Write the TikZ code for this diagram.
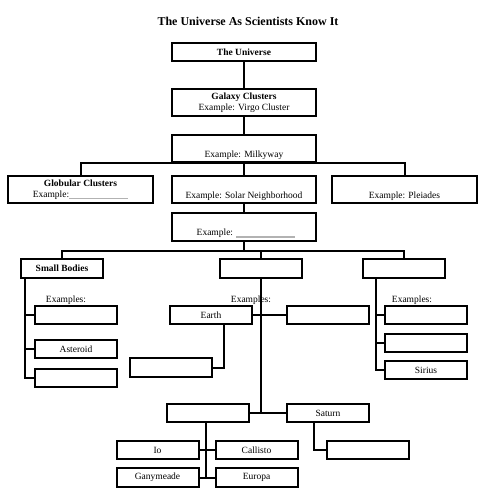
\documentclass[tikz,border=0pt]{standalone}
\usepackage{fontspec}
\setmainfont{Liberation Serif}
\usepackage{xcolor}
\usetikzlibrary{positioning,calc}
\tikzset{>=stealth}
\tikzset{
  box/.style={draw, line width=2pt, inner sep=0pt, align=center,
    minimum width=82pt, minimum height=18pt,
    font=\fontsize{9.5}{11.5}\selectfont},
  bigbox/.style={box, minimum width=144pt, minimum height=27pt},
  link/.style={line width=2pt},
  lbl/.style={inner sep=0pt, font=\fontsize{9.5}{11.5}\selectfont}
}
\newcommand{\blankline}{\textcolor{gray!60}{\rule[-1.8pt]{59pt}{1.2pt}}}

\begin{document}
\begin{tikzpicture}[x=1pt,y=-1pt]
\useasboundingbox (0,0) rectangle (484,499);
\node[inner sep=0pt, font=\fontsize{12}{14}\selectfont\bfseries] (title) at (248,21) {The Universe As Scientists Know It};

\node[bigbox, minimum height=18pt] (univ) at (244,52) {\textbf{The Universe}};
\node[bigbox] (gal) at (244,102.5) {\textbf{Galaxy Clusters}\\Example: Virgo Cluster};
\node[bigbox] (milky) at (244,148.5) {\strut\\Example: Milkyway};
\node[bigbox, minimum width=145pt] (glob) at (80.5,189.5) {\textbf{Globular Clusters}\\Example:\blankline};
\node[bigbox] (solar) at (244,189.5) {\strut\\Example: Solar Neighborhood};
\node[bigbox, minimum width=145pt] (pleia) at (404.5,189.5) {\strut\\Example: Pleiades};
\node[bigbox, minimum height=28pt] (ex) at (244,227) {\strut\\\hspace*{4pt}Example: \blankline};
\coordinate (bar) at (244,251);

% solar system level
\node[box, minimum height=19pt] (small) at (62,268.5) {\textbf{Small Bodies}};
\node[box, minimum height=19pt] (mid) at (261,268.5) {};
\node[box, minimum height=19pt] (right) at (404,268.5) {};

\node[lbl] (exL) at (66,300) {Examples:};
\node[lbl] (exM) at (251,300) {Examples:};
\node[lbl] (exR) at (412,300) {Examples:};

\node[box] (sA) at (76,315) {};
\node[box] (sB) at (76,349) {Asteroid};
\node[box] (sC) at (76,378) {};

\node[box] (earth) at (211,315) {Earth};
\node[box] (mE) at (328,315) {};
\node[box, minimum height=19pt] (earthc) at (170.5,367.5) {};

\node[box] (rA) at (426,315) {};
\node[box] (rB) at (426,342.5) {};
\node[box] (rC) at (426,370) {Sirius};

\node[box] (planet) at (207.5,413) {};
\node[box] (saturn) at (328,413) {Saturn};
\node[box] (satc) at (367.5,450) {};
\node[box] (io) at (157.5,450) {Io};
\node[box] (callisto) at (256.5,450) {Callisto};
\node[box, minimum height=19pt] (gany) at (157.5,477.5) {Ganymeade};
\node[box, minimum height=19pt] (europa) at (256.5,477.5) {Europa};

% connectors
\draw[link] (univ) -- (gal);
\draw[link] (gal) -- (milky);
\draw[link] (glob.north) |- (milky.south) -| (pleia.north);
\draw[link] (milky) -- (solar);
\draw[link] (solar) -- (ex);
\draw[link] (ex.south) -- (bar);
\draw[link] (small.north) |- (bar) -| (right.north);
\draw[link] (mid.north) -- (mid.north |- bar);

\foreach \n in {sA,sB,sC}
\draw[link] (\n.west) -| ([xshift=5pt]small.south west);
\foreach \n in {rA,rB,rC}
\draw[link] (\n.west) -| ([xshift=14pt]right.south west);

\draw[link] (mid.south) -- (mid.south |- saturn.west);
\draw[link] (earth.east) -- (mE.west);
\draw[link] ([xshift=13pt]earth.south) |- (earthc.east);
\draw[link] (planet.east) -- (saturn.west);
\draw[link] ([xshift=-14pt]saturn.south) |- (satc.west);
\draw[link] ([xshift=-1.5pt]planet.south) -- ([xshift=-1.5pt]planet.south |- gany.east);
\draw[link] (io.east) -- (callisto.west);
\draw[link] (gany.east) -- (europa.west);
\end{tikzpicture}
\end{document}
